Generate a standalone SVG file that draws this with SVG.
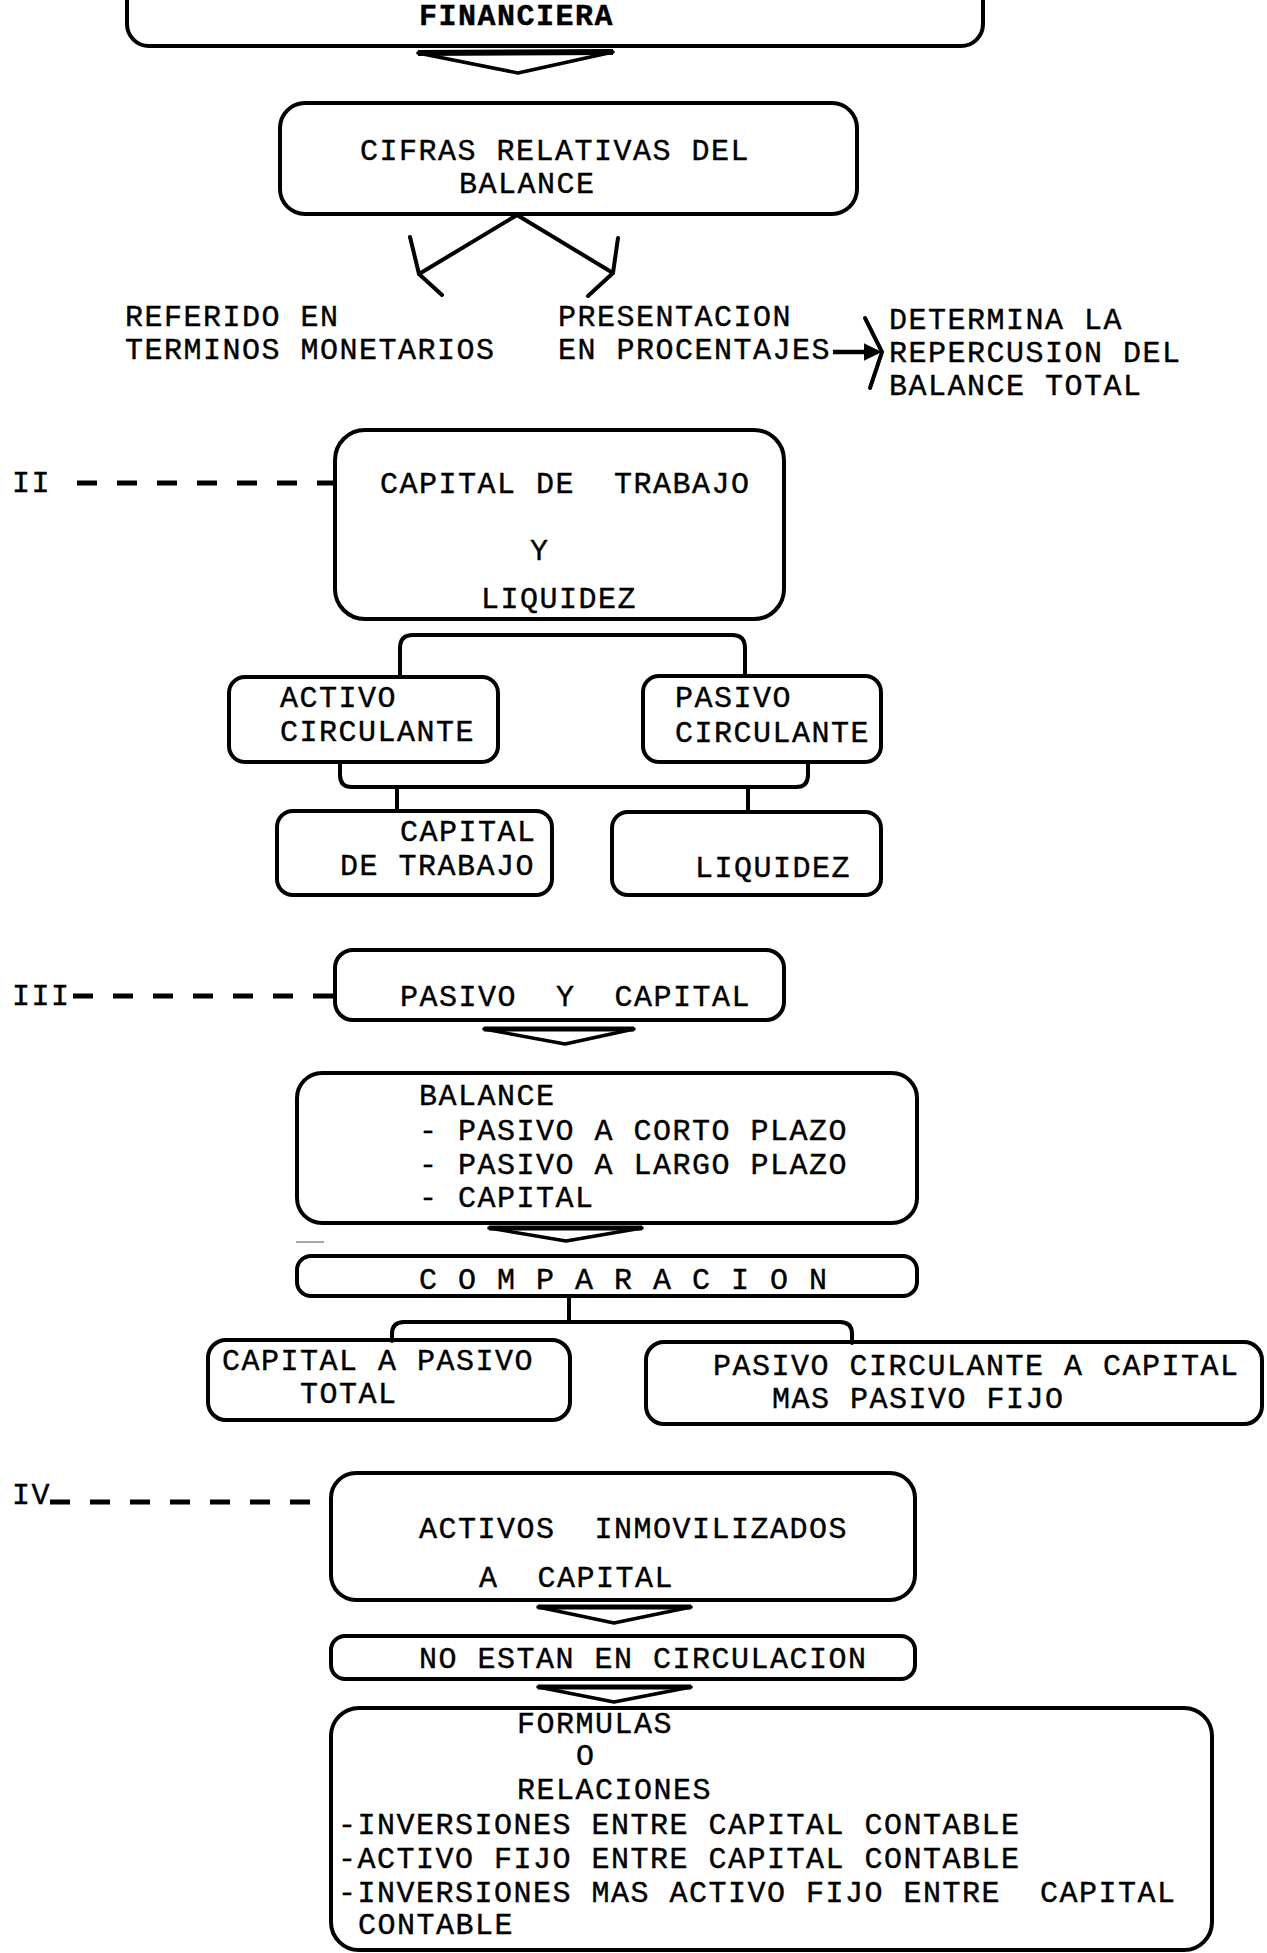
<svg xmlns="http://www.w3.org/2000/svg" width="1267" height="1953" viewBox="0 0 1267 1953">
<defs>
<style>
.bg{fill:#fff}
.box{fill:none;stroke:#000;stroke-width:4}
.con{fill:none;stroke:#000;stroke-width:4;stroke-linecap:round;stroke-linejoin:round}
.wedge{fill:#fff;stroke:#000;stroke-width:3.5;stroke-linejoin:round}
.dash{fill:none;stroke:#000;stroke-width:5;stroke-dasharray:20 20;stroke-linecap:butt}
.t{font-family:"Liberation Mono","DejaVu Sans Mono",monospace;font-size:30px;letter-spacing:1.5px;fill:#000;stroke:#000;stroke-width:0.4;white-space:pre}
.b{font-weight:bold}
</style>
<marker id="ah" viewBox="0 0 10 10" refX="8" refY="5" markerWidth="4" markerHeight="4" orient="auto" markerUnits="strokeWidth">
<path d="M0,0 L10,5 L0,10 z" fill="#000"/>
</marker>
</defs>
<rect class="bg" x="0" y="0" width="1267" height="1953"/>

<g id="connectors">
<polygon class="wedge" points="418,53 613,52 518,73"/>
<line x1="418" y1="53" x2="613" y2="52" stroke="#000" stroke-width="6"/>
<polyline class="con" points="517,215 419,274"/>
<polyline class="con" points="410,237 419,274 442,295"/>
<polyline class="con" points="517,215 613,273"/>
<polyline class="con" points="618,238 613,273 588,296"/>
<line x1="833" y1="352" x2="878" y2="352" stroke="#000" stroke-width="4.5" marker-end="url(#ah)"/>
<polyline class="con" points="865,318 882,352 870,388"/>
<line class="dash" x1="77" y1="483" x2="333" y2="483"/>
<path class="con" d="M400,676 V648 Q400,635 413,635 H732 Q745,635 745,648 V676"/>
<path class="con" d="M340,762 V775 Q340,787 352,787 H796 Q808,787 808,775 V762"/>
<path class="con" d="M397,787 V811"/>
<path class="con" d="M748,787 V812"/>
<line class="dash" x1="73" y1="996" x2="333" y2="996"/>
<polygon class="wedge" points="484,1029 634,1029 565,1044"/>
<line x1="484" y1="1029" x2="634" y2="1029" stroke="#000" stroke-width="5"/>
<polygon class="wedge" points="489,1228 642,1228 566,1241"/>
<line x1="489" y1="1228" x2="642" y2="1228" stroke="#000" stroke-width="5"/>
<line x1="296" y1="1242" x2="324" y2="1242" stroke="#888" stroke-width="1.5"/>
<path class="con" d="M569,1296 V1322"/>
<path class="con" d="M392,1341 V1334 Q392,1322 404,1322 H840 Q852,1322 852,1334 V1343"/>
<line class="dash" x1="50" y1="1502" x2="333" y2="1502"/>
<polygon class="wedge" points="538,1607 691,1607 614,1623"/>
<line x1="538" y1="1607" x2="691" y2="1607" stroke="#000" stroke-width="5"/>
<polygon class="wedge" points="538,1687 691,1687 614,1702"/>
<line x1="538" y1="1687" x2="691" y2="1687" stroke="#000" stroke-width="5"/>
</g>

<g id="n-financiera">
<rect class="box" x="127" y="-40" width="856" height="86" rx="22"/>
<text class="t b" x="419" y="25">FINANCIERA</text>
</g>
<g id="n-cifras">
<rect class="box" x="280" y="103" width="577" height="111" rx="25"/>
<text class="t" x="360" y="160">CIFRAS RELATIVAS DEL</text>
<text class="t" x="459" y="193">BALANCE</text>
</g>
<g id="n-referido">
<text class="t" x="125" y="326">REFERIDO EN</text>
<text class="t" x="125" y="359">TERMINOS MONETARIOS</text>
</g>
<g id="n-presentacion">
<text class="t" x="558" y="326">PRESENTACION</text>
<text class="t" x="558" y="359">EN PROCENTAJES</text>
</g>
<g id="n-determina">
<text class="t" x="889" y="329">DETERMINA LA</text>
<text class="t" x="889" y="362">REPERCUSION DEL</text>
<text class="t" x="889" y="395">BALANCE TOTAL</text>
</g>
<g id="n-ii">
<text class="t" x="12" y="492">II</text>
</g>
<g id="n-capital-trabajo-liquidez">
<rect class="box" x="335" y="430" width="449" height="189" rx="30"/>
<text class="t" x="380" y="493" xml:space="preserve">CAPITAL DE  TRABAJO</text>
<text class="t" x="530" y="560">Y</text>
<text class="t" x="481" y="608">LIQUIDEZ</text>
</g>
<g id="n-activo-circ">
<rect class="box" x="229" y="677" width="269" height="85" rx="16"/>
<text class="t" x="280" y="707">ACTIVO</text>
<text class="t" x="280" y="741">CIRCULANTE</text>
</g>
<g id="n-pasivo-circ">
<rect class="box" x="643" y="676" width="238" height="86" rx="16"/>
<text class="t" x="675" y="707">PASIVO</text>
<text class="t" x="675" y="742">CIRCULANTE</text>
</g>
<g id="n-capital-trabajo">
<rect class="box" x="277" y="811" width="275" height="84" rx="16"/>
<text class="t" x="400" y="841">CAPITAL</text>
<text class="t" x="340" y="875">DE TRABAJO</text>
</g>
<g id="n-liquidez">
<rect class="box" x="612" y="812" width="269" height="83" rx="16"/>
<text class="t" x="695" y="877">LIQUIDEZ</text>
</g>
<g id="n-iii">
<text class="t" x="12" y="1005">III</text>
</g>
<g id="n-pasivo-capital">
<rect class="box" x="335" y="950" width="449" height="70" rx="18"/>
<text class="t" x="400" y="1006" xml:space="preserve">PASIVO  Y  CAPITAL</text>
</g>
<g id="n-balance">
<rect class="box" x="297" y="1073" width="620" height="150" rx="25"/>
<text class="t" x="419" y="1105">BALANCE</text>
<text class="t" x="419" y="1140">- PASIVO A CORTO PLAZO</text>
<text class="t" x="419" y="1174">- PASIVO A LARGO PLAZO</text>
<text class="t" x="419" y="1207">- CAPITAL</text>
</g>
<g id="n-comparacion">
<rect class="box" x="297" y="1256" width="620" height="40" rx="14"/>
<text class="t" x="419" y="1289">C O M P A R A C I O N</text>
</g>
<g id="n-capital-pasivo-total">
<rect class="box" x="208" y="1340" width="362" height="80" rx="18"/>
<text class="t" x="222" y="1370">CAPITAL A PASIVO</text>
<text class="t" x="300" y="1403">TOTAL</text>
</g>
<g id="n-pasivo-circ-capital">
<rect class="box" x="646" y="1342" width="616" height="82" rx="18"/>
<text class="t" x="713" y="1375">PASIVO CIRCULANTE A CAPITAL</text>
<text class="t" x="772" y="1408">MAS PASIVO FIJO</text>
</g>
<g id="n-iv">
<text class="t" x="12" y="1504">IV</text>
</g>
<g id="n-activos-inmov">
<rect class="box" x="331" y="1473" width="584" height="127" rx="25"/>
<text class="t" x="419" y="1538" xml:space="preserve">ACTIVOS  INMOVILIZADOS</text>
<text class="t" x="479" y="1587" xml:space="preserve">A  CAPITAL</text>
</g>
<g id="n-no-estan">
<rect class="box" x="331" y="1636" width="584" height="43" rx="14"/>
<text class="t" x="419" y="1668">NO ESTAN EN CIRCULACION</text>
</g>
<g id="n-formulas">
<rect class="box" x="331" y="1708" width="881" height="242" rx="28"/>
<text class="t" x="517" y="1733">FORMULAS</text>
<text class="t" x="576" y="1765">O</text>
<text class="t" x="517" y="1799">RELACIONES</text>
<text class="t" x="338" y="1834">-INVERSIONES ENTRE CAPITAL CONTABLE</text>
<text class="t" x="338" y="1868">-ACTIVO FIJO ENTRE CAPITAL CONTABLE</text>
<text class="t" x="338" y="1902" xml:space="preserve">-INVERSIONES MAS ACTIVO FIJO ENTRE  CAPITAL</text>
<text class="t" x="358" y="1934">CONTABLE</text>
</g>
</svg>
